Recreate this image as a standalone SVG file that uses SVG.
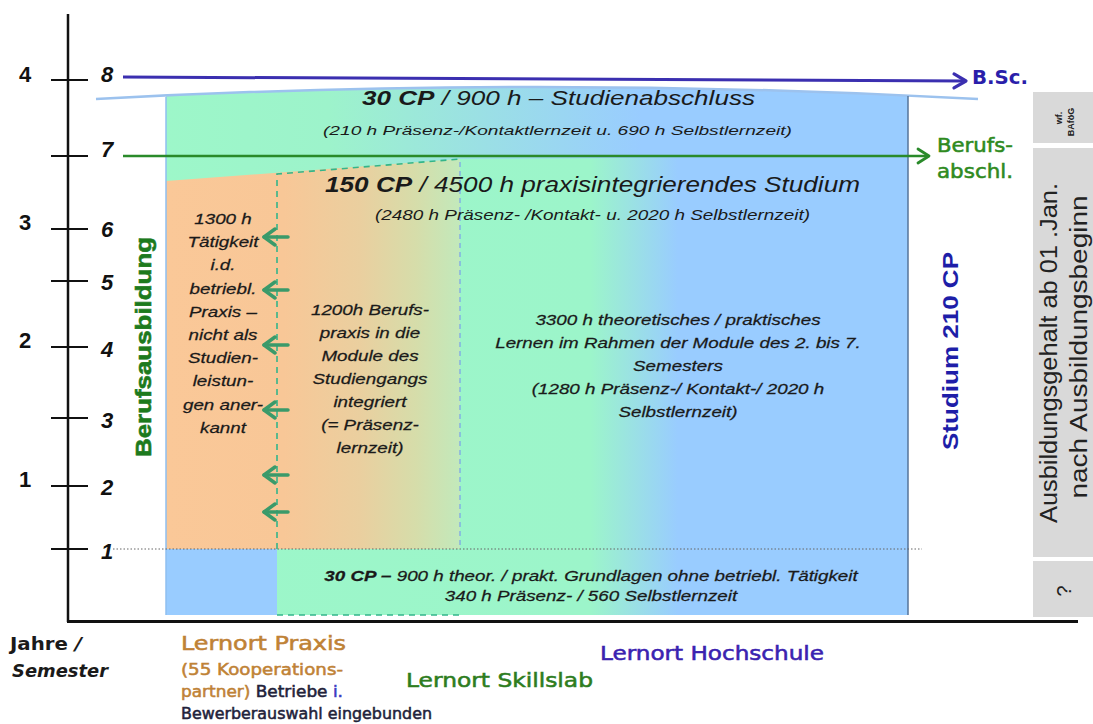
<svg xmlns="http://www.w3.org/2000/svg" width="1093" height="724" viewBox="0 0 1093 724">
<style>
.it{font-family:"Liberation Sans",Arial,sans-serif;font-style:italic;fill:#1a1a1a}
.col{font-family:"Liberation Sans",Arial,sans-serif;font-style:italic;fill:#1a1a1a;font-size:15.3px;text-anchor:middle;stroke:#1a1a1a;stroke-width:0.25}
.ax{font-family:"Liberation Sans",Arial,sans-serif;font-weight:bold;font-size:22px;fill:#111;text-anchor:middle}
.sem{font-style:italic}
.lbl{font-family:"DejaVu Sans","Liberation Sans",sans-serif;stroke-width:0.55}
.tick{stroke:#111;stroke-width:2}
.dash{fill:none;stroke:#33b58a;stroke-width:1.6;stroke-dasharray:6 5}
.larr{stroke:#3a9a6a;stroke-width:3.5;stroke-linecap:round;marker-end:url(#chevG)}
.gray{fill:#d9d9d9}
</style>
<defs>
<linearGradient id="gGB" gradientUnits="userSpaceOnUse" x1="166" y1="0" x2="908" y2="0">
<stop offset="0" stop-color="#9cf7c9"/>
<stop offset="0.572" stop-color="#9cf5ca"/>
<stop offset="0.69" stop-color="#99ccff"/>
<stop offset="1" stop-color="#99ccff"/>
</linearGradient>
<linearGradient id="gTop" gradientUnits="userSpaceOnUse" x1="166" y1="0" x2="908" y2="0">
<stop offset="0" stop-color="#9df7c9"/>
<stop offset="0.22" stop-color="#9df3cb"/>
<stop offset="0.64" stop-color="#99ccff"/>
<stop offset="1" stop-color="#99ccff"/>
</linearGradient>
<linearGradient id="gOr" gradientUnits="userSpaceOnUse" x1="166" y1="0" x2="460" y2="0">
<stop offset="0" stop-color="#fac898"/>
<stop offset="0.4" stop-color="#f8c797"/>
<stop offset="0.66" stop-color="#eacf9f"/>
<stop offset="0.85" stop-color="#d6ddaa"/>
<stop offset="1" stop-color="#c2e9bb"/>
</linearGradient>
<marker id="chevG" viewBox="-13 -10 16 20" markerWidth="16" markerHeight="20" refX="0" refY="0" orient="auto" markerUnits="userSpaceOnUse">
<path d="M-11,-8 L0,0 L-11,8" fill="none" stroke="#3a9a6a" stroke-width="3.5" stroke-linecap="round" stroke-linejoin="round"/>
</marker>
<marker id="chevP" viewBox="-16 -10 19 20" markerWidth="19" markerHeight="20" refX="0" refY="0" orient="auto" markerUnits="userSpaceOnUse">
<path d="M-12,-7 L0,0 L-12,7" fill="none" stroke="#3b2fb0" stroke-width="3.2" stroke-linecap="round" stroke-linejoin="round"/>
</marker>
<marker id="chevD" viewBox="-16 -10 19 20" markerWidth="19" markerHeight="20" refX="0" refY="0" orient="auto" markerUnits="userSpaceOnUse">
<path d="M-11,-7 L0,0 L-11,7" fill="none" stroke="#2a8a2a" stroke-width="2.8" stroke-linecap="round" stroke-linejoin="round"/>
</marker>
</defs>

<g id="areas">
<path d="M166,95.5 Q537,78.5 908,95.5 L908,615 L166,615 Z" fill="url(#gGB)"/>
<path d="M166,95.5 Q537,78.5 908,95.5 L908,156 L460,159 L166,181 Z" fill="url(#gTop)"/>
<path d="M166,181 L460,159 L460,549 L166,549 Z" fill="url(#gOr)"/>
<rect x="166" y="549" width="111" height="66" fill="#99ccff"/>
<path d="M96,99 Q537,75 978,99" fill="none" stroke="#9cc2ee" stroke-width="2.5"/>
<line x1="166" y1="97" x2="166" y2="615" stroke="#8fbff0" stroke-width="1.5"/>
<line x1="908" y1="96" x2="908" y2="615" stroke="#56749a" stroke-width="1.5"/>
</g>

<g id="grid">
<line x1="113" y1="549" x2="922" y2="549" stroke="#666" stroke-width="1" stroke-dasharray="1.5 2"/>
<path class="dash" d="M277,549 L277,174 L460,159"/>
<line x1="460" y1="162" x2="460" y2="549" stroke="#7fa6e6" stroke-width="1.3" stroke-dasharray="5 4"/>
<line class="dash" x1="277" y1="615" x2="460" y2="615"/>
</g>

<g id="axis">
<line x1="68" y1="14" x2="68" y2="622" stroke="#111" stroke-width="2.5"/>
<line x1="67" y1="621.5" x2="1078" y2="621.5" stroke="#111" stroke-width="3"/>
<line class="tick" x1="51" y1="80" x2="88" y2="80"/>
<line class="tick" x1="51" y1="156" x2="88" y2="156"/>
<line class="tick" x1="51" y1="229" x2="88" y2="229"/>
<line class="tick" x1="51" y1="281" x2="88" y2="281"/>
<line class="tick" x1="51" y1="347" x2="88" y2="347"/>
<line class="tick" x1="51" y1="418" x2="88" y2="418"/>
<line class="tick" x1="51" y1="486" x2="88" y2="486"/>
<line class="tick" x1="51" y1="549" x2="88" y2="549"/>
<text class="ax" x="25" y="82">4</text>
<text class="ax" x="25" y="230">3</text>
<text class="ax" x="25" y="348">2</text>
<text class="ax" x="25" y="487">1</text>
<text class="ax sem" x="107" y="82">8</text>
<text class="ax sem" x="107" y="157">7</text>
<text class="ax sem" x="107" y="237">6</text>
<text class="ax sem" x="107" y="290">5</text>
<text class="ax sem" x="107" y="357">4</text>
<text class="ax sem" x="107" y="428">3</text>
<text class="ax sem" x="107" y="495">2</text>
<text class="ax sem" x="107" y="559">1</text>
<text class="lbl" x="10" y="650" font-size="17" font-weight="bold" fill="#1a1a1a" textLength="72" lengthAdjust="spacingAndGlyphs">Jahre <tspan font-style="italic">/</tspan></text>
<text class="lbl" x="12" y="677" font-size="17" font-weight="bold" font-style="italic" fill="#1a1a1a" textLength="96" lengthAdjust="spacingAndGlyphs">Semester</text>
</g>

<g id="connectors">
<line x1="123" y1="77" x2="966" y2="81" stroke="#3b2fb0" stroke-width="3" marker-end="url(#chevP)"/>
<line x1="123" y1="156" x2="929" y2="156" stroke="#2a8a2a" stroke-width="2.6" marker-end="url(#chevD)"/>
<line class="larr" x1="288" y1="237" x2="264" y2="237"/>
<line class="larr" x1="288" y1="290" x2="264" y2="290"/>
<line class="larr" x1="288" y1="345" x2="264" y2="345"/>
<line class="larr" x1="288" y1="410" x2="264" y2="410"/>
<line class="larr" x1="288" y1="475" x2="264" y2="475"/>
<line class="larr" x1="288" y1="512" x2="264" y2="512"/>
</g>

<g id="node-abschluss">
<text class="it" x="362" y="105" font-size="20.5" textLength="393" lengthAdjust="spacingAndGlyphs"><tspan font-weight="bold">30 CP</tspan> / 900 h – Studienabschluss</text>
<text class="it" x="323" y="135" font-size="13.5" textLength="469" lengthAdjust="spacingAndGlyphs">(210 h Präsenz-/Kontaktlernzeit  u. 690  h Selbstlernzeit)</text>
</g>

<g id="node-studium">
<text class="it" x="325" y="192" font-size="22" textLength="535" lengthAdjust="spacingAndGlyphs"><tspan font-weight="bold">150 CP</tspan>  / 4500 h praxisintegrierendes Studium</text>
<text class="it" x="375" y="220" font-size="14" textLength="435" lengthAdjust="spacingAndGlyphs">(2480  h Präsenz- /Kontakt-  u. 2020  h Selbstlernzeit)</text>
</g>

<g id="node-taetigkeit" transform="matrix(1.23 0 0 1 -51.29 0)">
<text class="col" x="223" y="224">1300  h</text>
<text class="col" x="223" y="247">Tätigkeit</text>
<text class="col" x="223" y="270">i.d.</text>
<text class="col" x="223" y="294">betriebl.</text>
<text class="col" x="223" y="317">Praxis –</text>
<text class="col" x="223" y="340">nicht als</text>
<text class="col" x="223" y="363">Studien-</text>
<text class="col" x="223" y="386">leistun-</text>
<text class="col" x="223" y="410">gen  aner-</text>
<text class="col" x="223" y="433">kannt</text>
</g>

<g id="node-berufspraxis" transform="matrix(1.23 0 0 1 -85.1 0)">
<text class="col" x="370" y="315">1200h  Berufs-</text>
<text class="col" x="370" y="338">praxis in die</text>
<text class="col" x="370" y="361">Module des</text>
<text class="col" x="370" y="384">Studiengangs</text>
<text class="col" x="370" y="407">integriert</text>
<text class="col" x="370" y="430">(= Präsenz-</text>
<text class="col" x="370" y="453">lernzeit)</text>
</g>

<g id="node-lernen" transform="matrix(1.23 0 0 1 -155.94 0)">
<text class="col" x="678" y="325">3300  h theoretisches  /  praktisches</text>
<text class="col" x="678" y="348">Lernen  im  Rahmen  der Module des 2. bis 7.</text>
<text class="col" x="678" y="371">Semesters</text>
<text class="col" x="678" y="394">(1280  h Präsenz-/  Kontakt-/  2020  h</text>
<text class="col" x="678" y="417">Selbstlernzeit)</text>
</g>

<g id="node-grundlagen" transform="matrix(1.23 0 0 1 -135.93 0)">
<text class="col" x="591" y="581"><tspan font-weight="bold">30 CP –</tspan>  900  h theor. / prakt.  Grundlagen  ohne  betriebl.  Tätigkeit</text>
<text class="col" x="591" y="601">340  h Präsenz- / 560 Selbstlernzeit</text>
</g>

<g id="node-berufsausbildung">
<text transform="translate(151,347) rotate(-90)" text-anchor="middle" font-family="Liberation Sans, Arial, sans-serif" font-weight="bold" font-size="22" fill="#1d7a1d" stroke="#1d7a1d" stroke-width="0.6" textLength="220" lengthAdjust="spacingAndGlyphs">Berufsausbildung</text>
</g>

<g id="node-studium210">
<text transform="translate(958,351) rotate(-90)" text-anchor="middle" font-family="Liberation Sans, Arial, sans-serif" font-weight="bold" font-size="22" fill="#1e1ea8" textLength="198" lengthAdjust="spacingAndGlyphs">Studium 210 CP</text>
</g>

<g id="node-bsc">
<text class="lbl" x="972" y="84" font-size="20" font-weight="bold" fill="#2a1eaa" textLength="56" lengthAdjust="spacingAndGlyphs">B.Sc.</text>
</g>

<g id="node-berufsabschluss">
<text class="lbl" x="937" y="152" font-size="20" fill="#2f8a1e" stroke="#2f8a1e" textLength="76" lengthAdjust="spacingAndGlyphs">Berufs-</text>
<text class="lbl" x="937" y="178" font-size="20" fill="#2f8a1e" stroke="#2f8a1e" textLength="76" lengthAdjust="spacingAndGlyphs">abschl.</text>
</g>

<g id="node-gehalt">
<rect class="gray" x="1033" y="92" width="60" height="51"/>
<rect class="gray" x="1033" y="148" width="60" height="409"/>
<rect class="gray" x="1033" y="561" width="60" height="56"/>
<text transform="translate(1062,118) rotate(-90)" text-anchor="middle" font-family="Liberation Sans, Arial, sans-serif" font-weight="bold" font-size="9" fill="#222">wf.</text>
<text transform="translate(1074,122) rotate(-90)" text-anchor="middle" font-family="Liberation Sans, Arial, sans-serif" font-weight="bold" font-size="9" fill="#222">BAföG</text>
<text transform="translate(1057,353) rotate(-90)" text-anchor="middle" font-family="Liberation Sans, Arial, sans-serif" font-size="23" fill="#222" textLength="340" lengthAdjust="spacingAndGlyphs">Ausbildungsgehalt ab 01 .Jan.</text>
<text transform="translate(1087,347) rotate(-90)" text-anchor="middle" font-family="Liberation Sans, Arial, sans-serif" font-size="23" fill="#222" textLength="303" lengthAdjust="spacingAndGlyphs">nach Ausbildungsbeginn</text>
<text transform="translate(1071,591) rotate(-90)" text-anchor="middle" font-family="Liberation Sans, Arial, sans-serif" font-size="20" fill="#222">?</text>
</g>

<g id="node-lernorte">
<text class="lbl" x="181" y="650" font-size="20" fill="#bf8236" stroke="#bf8236" textLength="165" lengthAdjust="spacingAndGlyphs">Lernort  Praxis</text>
<text class="lbl" x="181" y="675" font-size="16.5" fill="#bf8236" stroke="#bf8236" textLength="162" lengthAdjust="spacingAndGlyphs">(55 Kooperations-</text>
<text class="lbl" x="181" y="697" font-size="16.5" fill="#bf8236" stroke="#bf8236" textLength="162" lengthAdjust="spacingAndGlyphs">partner) <tspan fill="#22223a" stroke="#22223a">Betriebe</tspan> <tspan fill="#3a3ac0" stroke="#3a3ac0">i.</tspan></text>
<text class="lbl" x="181" y="719" font-size="16.5" fill="#22223a" stroke="#22223a" textLength="251" lengthAdjust="spacingAndGlyphs">Bewerberauswahl   eingebunden</text>
<text class="lbl" x="406" y="687" font-size="20" fill="#2e7d1e" stroke="#2e7d1e" textLength="187" lengthAdjust="spacingAndGlyphs">Lernort  Skillslab</text>
<text class="lbl" x="600" y="660" font-size="20" fill="#3a22b0" stroke="#3a22b0" textLength="224" lengthAdjust="spacingAndGlyphs">Lernort  Hochschule</text>
</g>
</svg>
